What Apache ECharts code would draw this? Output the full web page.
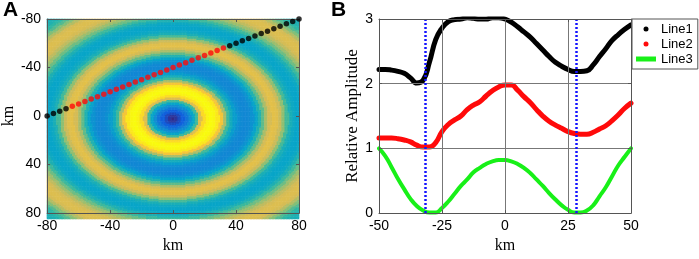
<!DOCTYPE html>
<html>
<head>
<meta charset="utf-8">
<script src="https://cdn.jsdelivr.net/npm/echarts@6/dist/echarts.min.js"></script>
<style>
  html, body { margin: 0; padding: 0; background: #fff; }
  #chart { width: 699px; height: 259px; }
</style>
</head>
<body>
<div id="chart"></div>
<script>
// Panel A: ring amplitude (0..1 colour scale) against distance from the centre, read along the vertical
const ringRadius = [0, 2, 4, 6, 8, 10, 12, 14, 16, 18, 20, 22, 24, 26, 28, 30, 32, 34, 36, 38,
  40, 42, 44, 46, 48, 50, 52, 54, 56, 58, 60, 62, 64, 66, 68, 70, 72, 74, 76, 78,
  80, 82, 84, 86, 88, 90, 92, 94, 96, 98, 100, 102, 104, 106, 108, 110, 112, 114, 116];
const ringValue = [0.00, 0.03, 0.08, 0.14, 0.21, 0.29, 0.38, 0.52, 0.78, 0.92, 0.98, 1.00, 0.99, 0.95, 0.85, 0.68, 0.52, 0.42, 0.35, 0.30,
  0.28, 0.27, 0.28, 0.31, 0.37, 0.46, 0.57, 0.68, 0.76, 0.80, 0.79, 0.74, 0.64, 0.53, 0.44, 0.40, 0.38, 0.38, 0.40, 0.45,
  0.52, 0.59, 0.66, 0.72, 0.76, 0.78, 0.78, 0.76, 0.70, 0.62, 0.55, 0.50, 0.46, 0.44, 0.43, 0.43, 0.44, 0.46, 0.48];
const ringStretchX = 1.1; // rings are a little wider than tall

// Panel A: sample points of the profile across the map (km)
const traceX = [-80, -76, -72, -68, -64, -60, -56, -52, -48, -44, -40, -36, -32, -28, -24, -20, -16, -12, -8, -4,
  0, 4, 8, 12, 16, 20, 24, 28, 32, 36, 40, 44, 48, 52, 56, 60, 64, 68, 72, 76, 80];
const traceY = [0, -2, -4, -6, -8, -10, -12, -14, -16, -18, -20, -22, -24, -26, -28, -30, -32, -34, -36, -38,
  -40, -42, -44, -46, -48, -50, -52, -54, -56, -58, -60, -62, -64, -66, -68, -70, -72, -74, -76, -78, -80];
const traceRedFrom = -64;
const traceRedTo = 32;
const mapTicks = [-80, -40, 0, 40, 80];

// Panel B
const distKm = [-50, -47.5, -45, -42.5, -40, -37.5, -35, -32.5, -30, -27.5, -25, -22.5, -20, -17.5, -15, -12.5, -10, -7.5, -5, -2.5,
  0, 2.5, 5, 7.5, 10, 12.5, 15, 17.5, 20, 22.5, 25, 27.5, 30, 32.5, 35, 37.5, 40, 42.5, 45, 47.5, 50];
const line1 = [2.22, 2.22, 2.21, 2.19, 2.16, 2.09, 2.01, 2.05, 2.33, 2.68, 2.86, 2.96, 2.99, 3.00, 3.02, 3.01, 3.00, 3.00, 3.02, 3.02,
  3.00, 2.95, 2.88, 2.80, 2.72, 2.62, 2.52, 2.42, 2.33, 2.27, 2.22, 2.19, 2.19, 2.20, 2.29, 2.42, 2.54, 2.67, 2.76, 2.84, 2.91];
const line2 = [1.16, 1.16, 1.16, 1.15, 1.13, 1.10, 1.05, 1.02, 1.02, 1.09, 1.26, 1.37, 1.44, 1.50, 1.60, 1.67, 1.72, 1.81, 1.89, 1.95,
  1.98, 1.98, 1.90, 1.80, 1.71, 1.60, 1.50, 1.42, 1.36, 1.31, 1.26, 1.23, 1.22, 1.22, 1.25, 1.30, 1.35, 1.43, 1.52, 1.62, 1.70];
const line3 = [1.00, 0.88, 0.71, 0.53, 0.37, 0.22, 0.11, 0.04, 0.01, 0.01, 0.08, 0.18, 0.30, 0.42, 0.52, 0.63, 0.70, 0.76, 0.80, 0.82,
  0.82, 0.80, 0.76, 0.70, 0.62, 0.52, 0.42, 0.31, 0.21, 0.12, 0.05, 0.01, 0.01, 0.04, 0.12, 0.26, 0.40, 0.57, 0.74, 0.87, 1.00];
const markerKm = [-31.6, 28.4];
const lineNames = ['Line1', 'Line2', 'Line3'];

const parula = ['#352a87', '#0f5cdd', '#1481d6', '#06a4ca', '#2eb7a4', '#87bf77', '#d1bb59', '#fec832', '#f9fb0e'];

// heatmap cells, 1 km each, coloured by the nearest ring-profile sample
const cellKm = 1;
const cells = [];
for (let c = -80 + cellKm / 2; c < 80; c += cellKm) cells.push(c);
const heatData = [];
cells.forEach((x, i) => {
  cells.forEach((y, j) => {
    const r = Math.hypot(x / ringStretchX, y);
    let k = 0;
    ringRadius.forEach((rr, n) => { if (Math.abs(rr - r) < Math.abs(ringRadius[k] - r)) k = n; });
    heatData.push([i, j, ringValue[k]]);
  });
});

const tracePts = traceX.map((x, i) => [x, traceY[i]]);
const redPts = tracePts.filter(p => p[0] >= traceRedFrom && p[0] <= traceRedTo);
const blackPts = tracePts.filter(p => p[0] < traceRedFrom || p[0] > traceRedTo);

const tickFont = { fontFamily: 'Liberation Sans', fontSize: 14, color: '#000' };
const nameFont = { fontFamily: 'Liberation Serif', fontSize: 16, color: '#000' };
const frameLine = { show: true, onZero: false, lineStyle: { color: '#555', width: 1 } };
const innerTick = { show: true, inside: true, length: 3, lineStyle: { color: '#555' } };

function valueAxis(grid, pos, min, max, interval, extra) {
  return Object.assign({
    type: 'value', gridIndex: grid, position: pos, min: min, max: max, interval: interval,
    axisLine: frameLine, axisTick: innerTick, splitLine: { show: false },
    axisLabel: { show: false }, z: 5
  }, extra || {});
}

const chart = echarts.init(document.getElementById('chart'));
chart.setOption({
  animation: false,
  title: [
    { text: 'A', left: 3, top: 0, padding: 0, textStyle: { fontFamily: 'Liberation Sans', fontWeight: 'bold', fontSize: 21, color: '#000' } },
    { text: 'B', left: 331, top: 0, padding: 0, textStyle: { fontFamily: 'Liberation Sans', fontWeight: 'bold', fontSize: 21, color: '#000' } }
  ],
  grid: [
    { left: 47, top: 19, width: 252, height: 200 },
    { left: 47, top: 19, width: 252, height: 200 },
    { left: 379, top: 19, width: 252, height: 201 }
  ],
  visualMap: { show: false, seriesIndex: 0, min: 0, max: 1, inRange: { color: parula } },
  legend: {
    orient: 'vertical', left: 632, top: 19, align: 'left',
    padding: [3, 5, 3, 4], itemGap: 1, itemWidth: 20, itemHeight: 5,
    borderColor: '#555', borderWidth: 1, backgroundColor: '#fff',
    itemStyle: { borderWidth: 0 },
    textStyle: { fontFamily: 'Liberation Sans', fontSize: 13, color: '#000', lineHeight: 14 },
    data: [
      { name: lineNames[0], icon: 'circle' },
      { name: lineNames[1], icon: 'circle' },
      { name: lineNames[2], icon: 'rect' }
    ]
  },
  xAxis: [
    { type: 'category', gridIndex: 0, data: cells, show: false },
    valueAxis(1, 'bottom', -80, 80, 40, {
      axisLabel: Object.assign({ margin: 6 }, tickFont),
      name: 'km', nameLocation: 'middle', nameGap: 23, nameTextStyle: nameFont
    }),
    valueAxis(1, 'top', -80, 80, 40),
    valueAxis(2, 'bottom', -50, 50, 25, {
      axisLabel: Object.assign({ margin: 6 }, tickFont),
      splitLine: { show: true, lineStyle: { color: '#777', width: 1 } },
      name: 'km', nameLocation: 'middle', nameGap: 23, nameTextStyle: nameFont
    }),
    valueAxis(2, 'top', -50, 50, 25)
  ],
  yAxis: [
    { type: 'category', gridIndex: 0, data: cells, inverse: true, show: false },
    valueAxis(1, 'left', -80, 80, 40, {
      inverse: true,
      axisLabel: Object.assign({ margin: 6, formatter: v => mapTicks.includes(v) ? String(v) : '' }, tickFont),
      name: 'km', nameLocation: 'middle', nameGap: 27, nameTextStyle: nameFont
    }),
    valueAxis(1, 'right', -80, 80, 40, { inverse: true }),
    valueAxis(2, 'left', 0, 3, 1, {
      axisLabel: Object.assign({ margin: 6 }, tickFont),
      splitLine: { show: true, lineStyle: { color: '#777', width: 1 } },
      name: 'Relative Amplitude', nameLocation: 'middle', nameGap: 18,
      nameTextStyle: Object.assign({}, nameFont, { fontSize: 17 })
    }),
    valueAxis(2, 'right', 0, 3, 1)
  ],
  series: [
    {
      type: 'heatmap', xAxisIndex: 0, yAxisIndex: 0, data: heatData,
      progressive: 0, emphasis: { disabled: true }, z: 1
    },
    {
      type: 'scatter', xAxisIndex: 1, yAxisIndex: 1, data: blackPts,
      symbolSize: 5.5, itemStyle: { color: '#000' }, z: 6
    },
    {
      type: 'scatter', xAxisIndex: 1, yAxisIndex: 1, data: redPts,
      symbolSize: 5.5, itemStyle: { color: '#ff0a0a' }, z: 6
    },
    {
      name: lineNames[0], type: 'line', xAxisIndex: 3, yAxisIndex: 3,
      data: distKm.map((x, i) => [x, line1[i]]), smooth: true, showSymbol: false,
      color: '#000', lineStyle: { width: 5, cap: 'round', join: 'round' }
    },
    {
      name: lineNames[1], type: 'line', xAxisIndex: 3, yAxisIndex: 3,
      data: distKm.map((x, i) => [x, line2[i]]), smooth: true, showSymbol: false,
      color: '#ff0a0a', lineStyle: { width: 5, cap: 'round', join: 'round' }
    },
    {
      name: lineNames[2], type: 'line', xAxisIndex: 3, yAxisIndex: 3,
      data: distKm.map((x, i) => [x, line3[i]]), smooth: true, showSymbol: false,
      color: '#18f018', lineStyle: { width: 4, cap: 'round', join: 'round' },
      markLine: {
        silent: true, symbol: 'none', label: { show: false },
        lineStyle: { color: '#1414ff', width: 2.5, type: [2.2, 1.8] },
        data: markerKm.map(x => ({ xAxis: x }))
      }
    }
  ]
});
</script>
</body>
</html>
